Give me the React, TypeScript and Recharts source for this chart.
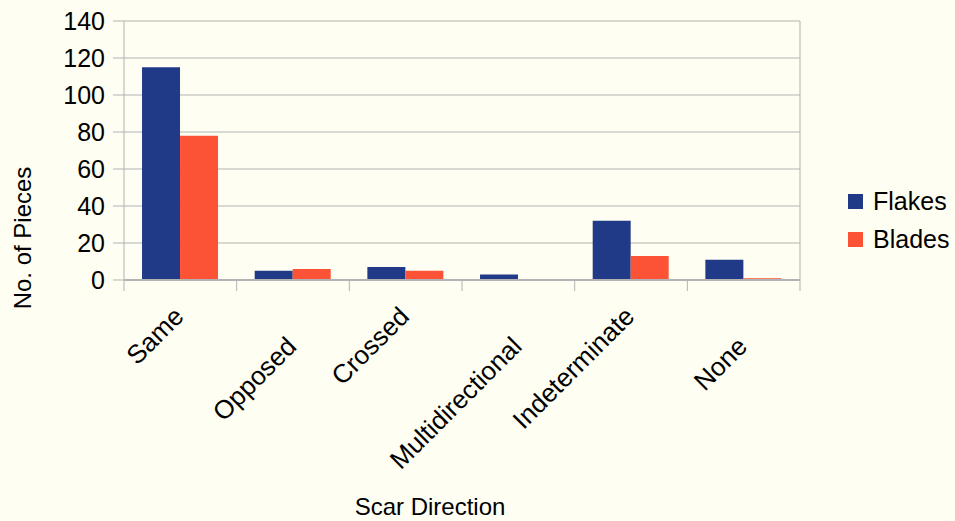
import { BarChart, Bar, XAxis, YAxis, CartesianGrid } from 'recharts'

const categories = ['Same', 'Opposed', 'Crossed', 'Multidirectional', 'Indeterminate', 'None']
const flakes = [115, 5, 7, 3, 32, 11]
const blades = [78, 6, 5, 0, 13, 1]
const yTicks = [0, 20, 40, 60, 80, 100, 120, 140]

const data = categories.map((c, i) => ({ name: c, Flakes: flakes[i], Blades: blades[i] }))

const W = 955
const H = 521
const LEFT = 124
const RIGHT = 155
const FONT = '"Liberation Sans", Arial, sans-serif'
const GRID = '#b3b3b3'
const BLUE = '#203a88'
const RED = '#fc5236'
const BG = '#fefef2'
const HALF_BAND = (W - LEFT - RIGHT) / categories.length / 2

// labels are staggered: every second one sits lower
function CatTick({ x, y, payload, index }: any) {
  const dy = index % 2 === 1 ? 68 : 38
  return (
    <g>
      <line x1={x - HALF_BAND} y1={y} x2={x - HALF_BAND} y2={y + 11} stroke={GRID} />
      {index === categories.length - 1 && (
        <line x1={x + HALF_BAND} y1={y} x2={x + HALF_BAND} y2={y + 11} stroke={GRID} />
      )}
      <text
        transform={`translate(${x + 5},${y + dy}) rotate(-45)`}
        textAnchor="end"
        fontSize={26}
        fontFamily={FONT}
        fill="#000"
      >
        {payload.value}
      </text>
    </g>
  )
}

function LegendBox() {
  const items = [
    { label: 'Flakes', color: BLUE },
    { label: 'Blades', color: RED },
  ]
  return (
    <div style={{ position: 'absolute', left: 848, top: 182, fontFamily: FONT, fontSize: 25 }}>
      {items.map((it) => (
        <div key={it.label} style={{ display: 'flex', alignItems: 'center', height: 38 }}>
          <span style={{ width: 15, height: 15, background: it.color, display: 'inline-block', marginRight: 10 }} />
          <span>{it.label}</span>
        </div>
      ))}
    </div>
  )
}

export default function App() {
  return (
    <div style={{ position: 'absolute', left: 0, top: 0, width: W, height: H, background: BG }}>
      <BarChart
        width={W}
        height={H}
        data={data}
        margin={{ top: 21, right: RIGHT - 1, bottom: 0, left: 0 }}
        barCategoryGap="16%"
        barGap={0}
      >
        <CartesianGrid vertical={false} stroke={GRID} yAxisId="left" />
        <XAxis
          dataKey="name"
          height={241}
          interval={0}
          tickSize={0}
          tickMargin={0}
          tickLine={false}
          axisLine={{ stroke: GRID, strokeWidth: 2 }}
          tick={<CatTick />}
          label={{
            content: () => (
              <text x={430} y={515} textAnchor="middle" fontSize={24} fontFamily={FONT} fill="#000">
                Scar Direction
              </text>
            ),
          }}
        />
        <YAxis
          yAxisId="left"
          width={LEFT}
          domain={[0, 140]}
          ticks={yTicks}
          interval={0}
          tickSize={11}
          tickMargin={8}
          tickLine={{ stroke: GRID }}
          axisLine={{ stroke: GRID }}
          tick={{ fontSize: 25, fontFamily: FONT, fill: '#000' }}
          label={{
            content: () => (
              <text
                transform="translate(31,238) rotate(-90)"
                textAnchor="middle"
                fontSize={24}
                fontFamily={FONT}
                fill="#000"
              >
                No. of Pieces
              </text>
            ),
          }}
        />
        <YAxis
          yAxisId="right"
          orientation="right"
          width={1}
          domain={[0, 140]}
          tick={false}
          tickLine={false}
          axisLine={{ stroke: GRID }}
        />
        <Bar yAxisId="left" dataKey="Flakes" fill={BLUE} isAnimationActive={false} />
        <Bar yAxisId="left" dataKey="Blades" fill={RED} isAnimationActive={false} />
      </BarChart>
      <LegendBox />
    </div>
  )
}
